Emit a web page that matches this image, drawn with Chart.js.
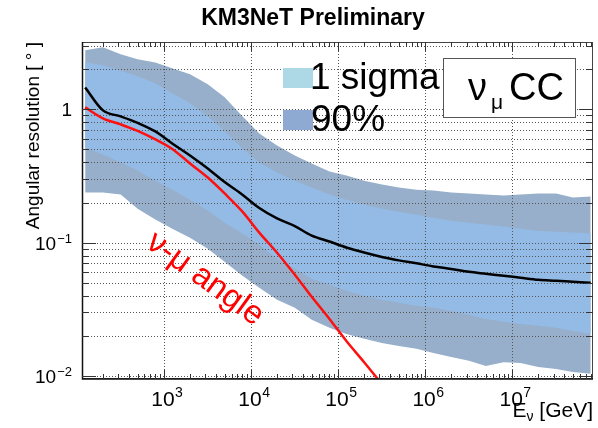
<!DOCTYPE html>
<html>
<head>
<script src="https://cdn.jsdelivr.net/npm/chart.js@4.4.1/dist/chart.umd.min.js"></script>
<style>
  body { margin: 0; background: #fff; }
  #wrap { width: 598px; height: 428px; }
</style>
</head>
<body>
<div id="wrap"><canvas id="canvas"></canvas></div>
<script>
// neutrino energy [GeV] where the curves were read
const energy = [125, 200, 320, 500, 800, 1250, 2000, 3200, 5000, 8000,
  12500, 20000, 32000, 50000, 80000, 1.25e5, 2e5, 3.2e5, 5e5, 8e5,
  1.25e6, 2e6, 3.2e6, 5e6, 8e6, 1.25e7, 2e7, 3.2e7, 5e7, 8e7];

// angular resolution [deg]
const band90High = [2.78, 2.92, 2.59, 2.38, 2.25, 2.03, 1.83, 1.54, 1.23, 0.886,
  0.66, 0.536, 0.451, 0.393, 0.342, 0.319, 0.292, 0.273, 0.259, 0.250,
  0.246, 0.238, 0.234, 0.230, 0.226, 0.230, 0.234, 0.234, 0.218, 0.222];
const sigmaHigh = [2.26, 2.14, 1.96, 1.77, 1.57, 1.32, 1.11, 0.886, 0.684, 0.509,
  0.400, 0.336, 0.292, 0.259, 0.230, 0.210, 0.193, 0.180, 0.171, 0.162,
  0.154, 0.146, 0.141, 0.137, 0.132, 0.127, 0.123, 0.121, 0.119, 0.117];
const sigmaLow = [0.518, 0.459, 0.400, 0.348, 0.292, 0.250, 0.210, 0.174, 0.141, 0.117,
  0.0966, 0.0759, 0.0638, 0.0536, 0.0483, 0.0436, 0.0400, 0.0373, 0.0354, 0.0336,
  0.0325, 0.0308, 0.0288, 0.0268, 0.0255, 0.0246, 0.0238, 0.0230, 0.0218, 0.0207];
const band90Low = [0.238, 0.238, 0.230, 0.180, 0.149, 0.127, 0.109, 0.0901, 0.0720, 0.0565,
  0.0459, 0.0373, 0.0325, 0.0264, 0.0230, 0.0207, 0.0190, 0.0177, 0.0168, 0.0160,
  0.0149, 0.0139, 0.0130, 0.0119, 0.0127, 0.0125, 0.0117, 0.0113, 0.0107, 0.0104];
const median = [1.46, 0.983, 0.886, 0.792, 0.683, 0.555, 0.451, 0.360, 0.285, 0.229,
  0.182, 0.152, 0.133, 0.113, 0.102, 0.092, 0.0843, 0.0781, 0.0737, 0.0700,
  0.0664, 0.0636, 0.0605, 0.0585, 0.0565, 0.0546, 0.0527, 0.0518, 0.0509, 0.0500];
// nu-mu kinematic angle
const angleEnergy = energy.slice(0, 18);
const nuMuAngle = [1.035, 0.856, 0.771, 0.689, 0.595, 0.505, 0.393, 0.308, 0.234, 0.171,
  0.119, 0.0841, 0.0575, 0.0393, 0.0268, 0.0183, 0.0127, 0.0087];

const xDecades = [1e3, 1e4, 1e5, 1e6, 1e7];
const xExponents = ['3', '4', '5', '6', '7'];
const yDecades = [0.01, 0.1, 1];
const yLabels = [['10', '\u22122'], ['10', '\u22121'], ['1', '']];

const FONT = '"Liberation Sans", Arial, Helvetica, sans-serif';
const pts = (xs, ys) => ys.map((y, i) => ({ x: xs[i], y: y }));

function drawGrid(chart) {
  const { ctx, chartArea: a, scales: { x, y } } = chart;
  ctx.save();
  ctx.beginPath();
  ctx.rect(a.left, a.top, a.right - a.left, a.bottom - a.top);
  ctx.clip();
  ctx.strokeStyle = '#555';
  ctx.lineWidth = 1;
  ctx.setLineDash([1, 2]);
  for (let e = -2; e <= 0; e++) {
    for (let m = 1; m <= 9; m++) {
      const v = m * Math.pow(10, e);
      if (v < y.min || v > y.max) continue;
      const py = Math.round(y.getPixelForValue(v)) + 0.5;
      ctx.beginPath(); ctx.moveTo(a.left, py); ctx.lineTo(a.right, py); ctx.stroke();
    }
  }
  xDecades.forEach(v => {
    const px = Math.round(x.getPixelForValue(v)) + 0.5;
    ctx.beginPath(); ctx.moveTo(px, a.top); ctx.lineTo(px, a.bottom); ctx.stroke();
  });
  ctx.restore();
}

function drawFrame(chart) {
  const { ctx, chartArea: a, scales: { x, y } } = chart;
  ctx.save();
  ctx.strokeStyle = '#444';
  ctx.lineWidth = 1;
  ctx.strokeRect(a.left + 0.5, a.top + 0.5, a.right - a.left - 1, a.bottom - a.top - 1);
  ctx.strokeStyle = '#111';
  ctx.lineWidth = 1.5;
  ctx.beginPath();
  ctx.moveTo(a.left + 0.5, a.top); ctx.lineTo(a.left + 0.5, a.bottom);
  ctx.lineTo(a.right, a.bottom);
  ctx.stroke();
  // inward tick marks
  ctx.strokeStyle = '#333';
  ctx.lineWidth = 1;
  for (let e = 2; e <= 7; e++) {
    for (let m = 1; m <= 9; m++) {
      const v = m * Math.pow(10, e);
      if (v < x.min || v > x.max) continue;
      const px = Math.round(x.getPixelForValue(v)) + 0.5;
      const len = m === 1 ? 9 : 5;
      ctx.beginPath();
      ctx.moveTo(px, a.bottom); ctx.lineTo(px, a.bottom - len);
      ctx.moveTo(px, a.top); ctx.lineTo(px, a.top + len);
      ctx.stroke();
    }
  }
  for (let e = -3; e <= 0; e++) {
    for (let m = 1; m <= 9; m++) {
      const v = m * Math.pow(10, e);
      if (v < y.min || v > y.max) continue;
      const py = Math.round(y.getPixelForValue(v)) + 0.5;
      const len = m === 1 ? 14 : 7;
      ctx.beginPath();
      ctx.moveTo(a.left, py); ctx.lineTo(a.left + len, py);
      ctx.moveTo(a.right, py); ctx.lineTo(a.right - len, py);
      ctx.stroke();
    }
  }
  ctx.restore();
}

function drawTexts(chart) {
  const { ctx, chartArea: a, scales: { x, y } } = chart;
  ctx.save();
  ctx.fillStyle = '#000';
  ctx.textBaseline = 'alphabetic';

  // title
  ctx.font = 'bold 23px ' + FONT;
  ctx.textAlign = 'center';
  ctx.fillText('KM3NeT Preliminary', 313, 25);

  // x tick labels
  ctx.textAlign = 'left';
  xDecades.forEach((v, i) => {
    const px = x.getPixelForValue(v);
    ctx.font = '21px ' + FONT;
    const w1 = ctx.measureText('10').width;
    ctx.font = '14px ' + FONT;
    const w2 = ctx.measureText(xExponents[i]).width;
    const x0 = px - (w1 + w2) / 2 + 3;
    ctx.font = '21px ' + FONT;
    ctx.fillText('10', x0, 406);
    ctx.font = '14px ' + FONT;
    ctx.fillText(xExponents[i], x0 + w1 + 0.5, 397);
  });

  // y tick labels
  yDecades.forEach((v, i) => {
    const py = y.getPixelForValue(v);
    const [base, exp] = yLabels[i];
    ctx.font = '13px ' + FONT;
    const w2 = exp ? ctx.measureText(exp).width + 1 : 0;
    ctx.textAlign = 'right';
    if (exp) ctx.fillText(exp, 72, py);
    ctx.font = '19px ' + FONT;
    ctx.fillText(base, 72 - w2, py + 7);
  });

  // x axis title: E_nu [GeV]
  ctx.textAlign = 'left';
  ctx.font = '21px ' + FONT;
  const wE = ctx.measureText('E').width;
  const wG = ctx.measureText(' [GeV]').width;
  ctx.font = '14px ' + FONT;
  const wNu = ctx.measureText('\u03bd').width;
  let tx = a.right - (wE + wNu + wG);
  ctx.font = '21px ' + FONT;
  ctx.fillText('E', tx, 417);
  ctx.font = '14px ' + FONT;
  ctx.fillText('\u03bd', tx + wE, 421);
  ctx.font = '21px ' + FONT;
  ctx.fillText(' [GeV]', tx + wE + wNu, 417);

  // legend
  ctx.fillStyle = '#ADD8E6';
  ctx.fillRect(283, 68, 30, 20);
  ctx.fillStyle = '#8EA9D2';
  ctx.fillRect(283, 110, 30, 20);
  ctx.fillStyle = '#000';
  ctx.font = '37px ' + FONT;
  ctx.fillText('1 sigma', 310, 89);
  ctx.fillText('90%', 311, 131);

  // nu_mu CC box
  ctx.fillStyle = '#fff';
  ctx.fillRect(443, 58, 132, 59);
  ctx.strokeStyle = '#555';
  ctx.lineWidth = 1;
  ctx.strokeRect(443.5, 58.5, 132, 59);
  ctx.fillStyle = '#000';
  ctx.font = '38px ' + FONT;
  ctx.fillText('\u03bd', 468, 100);
  ctx.font = '21px ' + FONT;
  ctx.fillText('\u03bc', 491, 109);
  ctx.font = '38px ' + FONT;
  ctx.fillText('CC', 509, 100);

  // nu-mu angle label
  ctx.save();
  ctx.translate(205, 279);
  ctx.rotate(36 * Math.PI / 180);
  ctx.fillStyle = '#ff0000';
  ctx.font = '33px ' + FONT;
  ctx.textAlign = 'center';
  ctx.textBaseline = 'middle';
  ctx.fillText('\u03bd-\u03bc angle', 0, 0);
  ctx.restore();

  ctx.restore();
}

const decor = {
  id: 'decor',
  beforeDatasetDraw(chart, args) {
    if (args.index === 5) drawGrid(chart);
  },
  afterDatasetsDraw(chart) { drawFrame(chart); },
  afterDraw(chart) { drawTexts(chart); }
};

const band = { pointRadius: 0, borderWidth: 0, borderColor: 'rgba(0,0,0,0)', tension: 0 };

new Chart(document.getElementById('canvas').getContext('2d'), {
  type: 'line',
  data: {
    datasets: [
      { ...band, label: '90% low', data: pts(energy, band90Low), fill: false, order: 6 },
      { ...band, label: '90%', data: pts(energy, band90High), fill: '-1',
        backgroundColor: '#97AFCA', order: 5 },
      { ...band, label: '1 sigma low', data: pts(energy, sigmaLow), fill: false, order: 4 },
      { ...band, label: '1 sigma', data: pts(energy, sigmaHigh), fill: '-1',
        backgroundColor: '#93BBE5', order: 3 },
      { label: 'median', data: pts(energy, median), borderColor: '#000', borderWidth: 2.5,
        pointRadius: 0, fill: false, cubicInterpolationMode: 'monotone', order: 1 },
      { label: 'nu-mu angle', data: pts(angleEnergy, nuMuAngle), borderColor: '#ff1010',
        borderWidth: 2.5, pointRadius: 0, fill: false, cubicInterpolationMode: 'monotone', order: 2 }
    ]
  },
  options: {
    responsive: true,
    maintainAspectRatio: false,
    animation: false,
    layout: { padding: { top: 42, right: 5, left: 0, bottom: 0 } },
    plugins: { legend: { display: false }, tooltip: { enabled: false }, title: { display: false } },
    scales: {
      x: {
        type: 'logarithmic',
        min: 115,
        max: 8.5e7,
        grid: { display: false, drawTicks: false },
        border: { display: false },
        ticks: { display: false },
        afterBuildTicks: s => { s.ticks = xDecades.map(v => ({ value: v })); },
        afterFit: s => { s.height = 49; }
      },
      y: {
        type: 'logarithmic',
        min: 0.0095,
        max: 3.2,
        grid: { display: false, drawTicks: false },
        border: { display: false },
        ticks: { display: false },
        afterBuildTicks: s => { s.ticks = yDecades.map(v => ({ value: v })); },
        afterFit: s => { s.width = 82; },
        title: {
          display: true,
          text: 'Angular resolution [ \u00b0 ]',
          align: 'end',
          color: '#000',
          font: { family: FONT, size: 19 },
          padding: { top: 22, bottom: 0 }
        }
      }
    }
  },
  plugins: [decor]
});
</script>
</body>
</html>
